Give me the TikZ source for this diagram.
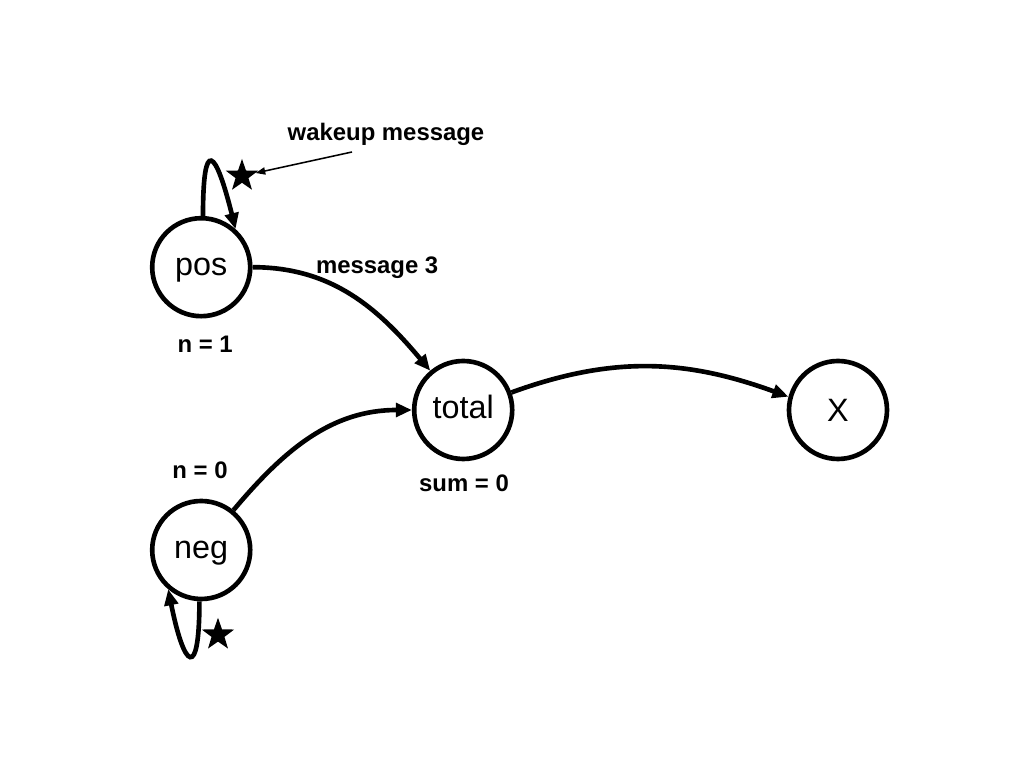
\documentclass[tikz,border=0pt]{standalone}
\usepackage{fontspec}
\setmainfont{Liberation Sans}
\usetikzlibrary{shapes.geometric, arrows.meta, positioning, calc}
\usepackage{xcolor}
\definecolor{Ink}{HTML}{000000}

\begin{document}
\begin{tikzpicture}[
            proc/.style={
                circle,
                draw=Ink,
                fill=white,
                line width=3.3pt,
                minimum size=2.45cm,
                inner sep=0pt,
                text height=12pt,
                text depth=0pt,
                font=\fontsize{23}{27}\selectfont,
                text=Ink
            },
            token/.style={
                star,
                star points=5,
                star point ratio=2.5,
                fill=Ink,
                draw=none,
                inner sep=0pt,
                minimum size=0.85cm
            },
            arrow/.style={-{Triangle[length=0.4cm, width=0.34cm]}, line width=3.3pt, color=Ink},
            pointer/.style={-{Triangle[length=0.24cm, width=0.18cm]}, line width=1.1pt, color=Ink},
            note/.style={font=\fontsize{17}{20}\selectfont\bfseries, color=Ink}
        ]
            \useasboundingbox (0,0) rectangle (25.6,19.2);

            \node[proc] (pos) at (5.03,12.52) {pos};
            \node[proc] (total) at (11.58,8.95) {total};
            \node[proc] (neg) at (5.03,5.45) {neg};
            \node[proc, text height=16.5pt] (x) at (20.95,8.95) {X};

            \node[note] (n1) at (5.13,10.6) {n = 1};
            \node[note] (n0) at (5.0,7.45) {n = 0};
            \node[note] (sum) at (11.6,7.12) {sum = 0};
            \node[note] (msg) at (9.43,12.5) {message 3};
            \node[note] (wake) at (9.65,15.83) {wakeup message};

            \node[token] (star1) at (6.05,14.8) {};
            \node[token] (star2) at (5.45,3.33) {};
            \coordinate (wake tail) at (8.8,15.4);

            % Forward flow
            \draw[arrow] (pos.east) to[out=0, in=130] (total.130);
            \draw[arrow] (neg.51) to[out=50, in=180] (total.west);
            \draw[arrow] (total.20) to[out=20, in=160] (x.165);

            % Self loops
            \draw[arrow] (pos.88) .. controls +(0,2) and +(-0.5,2) .. (pos.48);
            \draw[arrow] (neg.268) .. controls +(0,-2) and +(0.4,-2) .. (neg.230);
            \draw[pointer] (wake tail) -- (star1);
        \end{tikzpicture}
\end{document}
